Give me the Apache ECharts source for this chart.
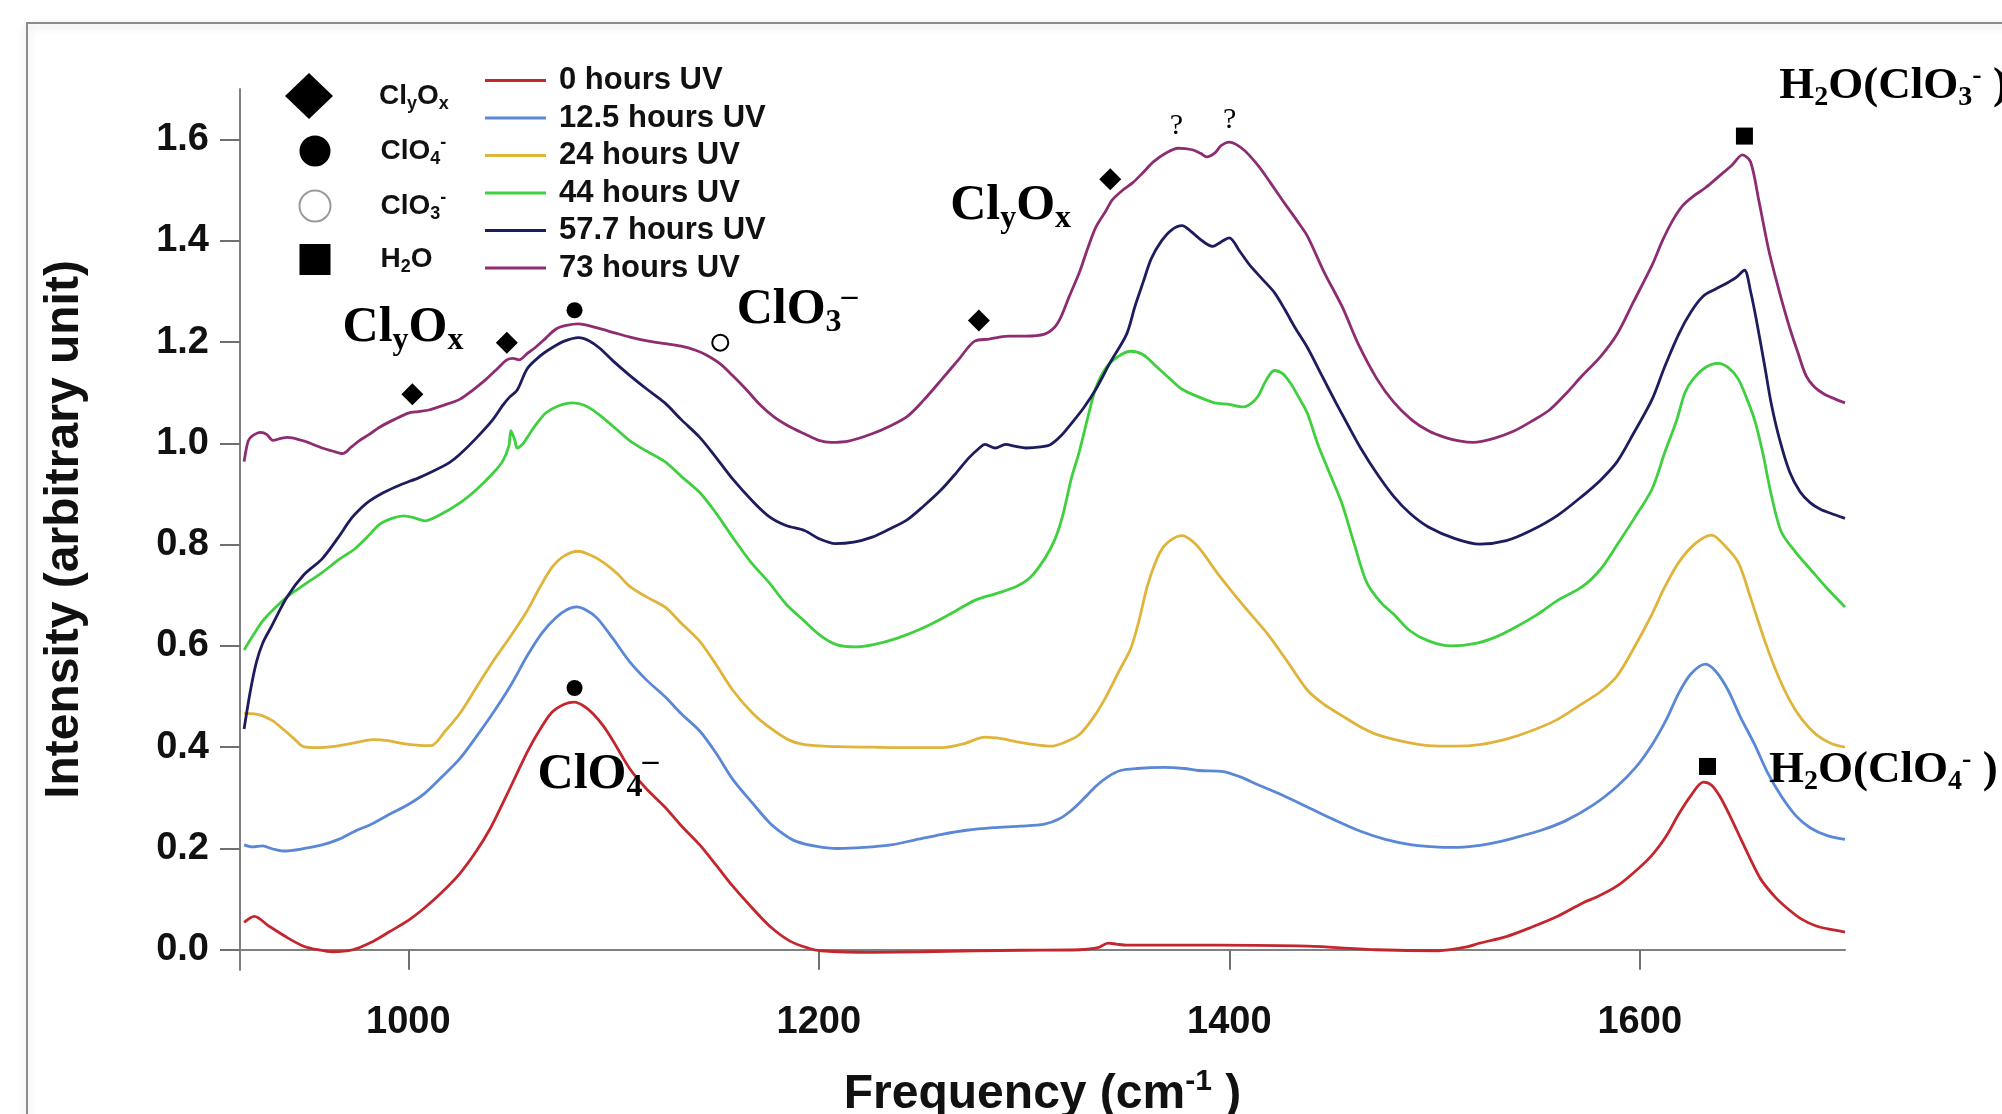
<!DOCTYPE html>
<html>
<head>
<meta charset="utf-8">
<script src="https://cdn.jsdelivr.net/npm/echarts@6/dist/echarts.min.js"></script>
<style>
html, body { margin: 0; background: #fff; }
#chart { width: 2002px; height: 1114px; }
</style>
</head>
<body>
<div id="chart"></div>
<script>
// spectra, [frequency cm-1, intensity]
var h0 = [[920,0.054],[925,0.066],[932,0.047],[941,0.024],[949,0.007],[956,0.0],[963,-0.004],[973,0.0],[983,0.017],[991,0.036],[1000,0.058],[1008,0.083],[1016,0.112],[1025,0.150],[1033,0.194],[1040,0.240],[1046,0.289],[1052,0.340],[1058,0.391],[1064,0.434],[1070,0.469],[1076,0.485],[1081,0.489],[1086,0.480],[1090,0.466],[1095,0.442],[1100,0.411],[1108,0.357],[1116,0.318],[1125,0.282],[1133,0.245],[1142,0.207],[1150,0.167],[1158,0.126],[1167,0.085],[1176,0.047],[1186,0.017],[1195,0.003],[1201,-0.002],[1226,-0.005],[1250,-0.004],[1276,-0.002],[1300,-0.001],[1327,0.0],[1336,0.004],[1341,0.013],[1345,0.011],[1350,0.009],[1394,0.009],[1438,0.007],[1472,0.0],[1502,-0.002],[1515,0.005],[1522,0.013],[1535,0.026],[1547,0.044],[1560,0.066],[1572,0.092],[1580,0.106],[1589,0.126],[1597,0.152],[1606,0.187],[1613,0.225],[1619,0.268],[1625,0.305],[1631,0.331],[1635,0.325],[1639,0.303],[1644,0.264],[1649,0.221],[1654,0.178],[1659,0.139],[1666,0.104],[1673,0.078],[1679,0.060],[1686,0.047],[1693,0.040],[1700,0.035]];

var h12 = [[920,0.207],[924,0.203],[929,0.205],[934,0.199],[939,0.195],[948,0.199],[958,0.207],[966,0.218],[974,0.234],[983,0.250],[991,0.268],[1000,0.287],[1008,0.309],[1016,0.340],[1025,0.377],[1033,0.420],[1041,0.466],[1050,0.523],[1058,0.581],[1065,0.625],[1072,0.656],[1077,0.671],[1082,0.677],[1087,0.670],[1092,0.655],[1100,0.613],[1108,0.568],[1116,0.533],[1125,0.500],[1133,0.466],[1142,0.432],[1150,0.388],[1158,0.337],[1168,0.288],[1176,0.251],[1183,0.228],[1189,0.214],[1199,0.204],[1209,0.200],[1222,0.202],[1235,0.207],[1247,0.217],[1260,0.228],[1272,0.236],[1285,0.241],[1298,0.244],[1310,0.248],[1317,0.258],[1323,0.275],[1329,0.298],[1335,0.323],[1341,0.342],[1347,0.354],[1355,0.358],[1368,0.360],[1378,0.358],[1385,0.354],[1397,0.352],[1405,0.342],[1414,0.326],[1426,0.305],[1438,0.282],[1451,0.257],[1464,0.234],[1476,0.218],[1489,0.207],[1500,0.203],[1509,0.202],[1520,0.205],[1530,0.212],[1539,0.221],[1552,0.236],[1564,0.255],[1577,0.285],[1589,0.323],[1598,0.360],[1606,0.405],[1613,0.455],[1619,0.507],[1625,0.545],[1632,0.564],[1637,0.550],[1643,0.513],[1649,0.460],[1656,0.405],[1662,0.352],[1669,0.303],[1676,0.265],[1683,0.241],[1691,0.226],[1700,0.218]];

var h24 = [[920,0.467],[925,0.466],[929,0.462],[934,0.452],[938,0.439],[944,0.418],[949,0.401],[956,0.399],[963,0.401],[973,0.408],[983,0.415],[990,0.413],[996,0.408],[1004,0.404],[1011,0.403],[1018,0.432],[1025,0.466],[1033,0.517],[1041,0.568],[1050,0.620],[1058,0.670],[1064,0.715],[1070,0.755],[1076,0.778],[1083,0.787],[1089,0.779],[1095,0.765],[1102,0.742],[1108,0.717],[1116,0.697],[1125,0.677],[1133,0.645],[1142,0.609],[1150,0.563],[1158,0.513],[1168,0.466],[1176,0.439],[1185,0.415],[1193,0.405],[1209,0.401],[1226,0.400],[1243,0.399],[1260,0.399],[1270,0.406],[1281,0.420],[1289,0.417],[1296,0.411],[1305,0.405],[1313,0.402],[1320,0.410],[1327,0.425],[1334,0.460],[1340,0.500],[1346,0.548],[1352,0.595],[1356,0.650],[1360,0.717],[1364,0.765],[1368,0.796],[1373,0.813],[1377,0.818],[1382,0.807],[1387,0.785],[1394,0.745],[1402,0.704],[1410,0.665],[1419,0.622],[1428,0.571],[1438,0.513],[1446,0.485],[1455,0.462],[1464,0.440],[1472,0.425],[1485,0.411],[1497,0.403],[1510,0.402],[1522,0.405],[1535,0.416],[1547,0.432],[1560,0.455],[1572,0.486],[1581,0.510],[1589,0.541],[1597,0.595],[1606,0.663],[1612,0.715],[1619,0.765],[1627,0.802],[1635,0.819],[1641,0.800],[1648,0.765],[1654,0.695],[1661,0.609],[1667,0.545],[1673,0.493],[1679,0.455],[1686,0.425],[1693,0.408],[1700,0.400]];

var h44 = [[920,0.592],[925,0.625],[929,0.649],[935,0.675],[941,0.697],[949,0.720],[958,0.745],[966,0.770],[974,0.792],[980,0.815],[986,0.840],[992,0.852],[998,0.857],[1003,0.853],[1008,0.847],[1015,0.858],[1025,0.882],[1033,0.908],[1041,0.940],[1046,0.965],[1049,0.995],[1050,1.025],[1052,1.005],[1053,0.991],[1056,1.000],[1058,1.012],[1062,1.036],[1067,1.060],[1073,1.074],[1080,1.080],[1086,1.075],[1092,1.060],[1100,1.033],[1108,1.005],[1116,0.985],[1125,0.964],[1133,0.935],[1142,0.903],[1150,0.862],[1158,0.815],[1167,0.765],[1176,0.724],[1184,0.683],[1193,0.649],[1201,0.620],[1209,0.602],[1218,0.598],[1226,0.602],[1238,0.615],[1251,0.636],[1264,0.663],[1276,0.690],[1286,0.703],[1296,0.717],[1303,0.735],[1310,0.772],[1315,0.810],[1319,0.860],[1323,0.930],[1327,0.985],[1331,1.050],[1335,1.110],[1340,1.150],[1346,1.172],[1352,1.182],[1358,1.175],[1365,1.150],[1371,1.128],[1377,1.107],[1385,1.092],[1393,1.080],[1400,1.077],[1407,1.072],[1411,1.080],[1414,1.093],[1418,1.125],[1422,1.144],[1426,1.138],[1430,1.118],[1434,1.090],[1438,1.060],[1443,1.000],[1449,0.940],[1455,0.880],[1461,0.800],[1467,0.725],[1474,0.685],[1480,0.663],[1488,0.630],[1497,0.610],[1508,0.600],[1520,0.605],[1530,0.618],[1539,0.636],[1550,0.662],[1560,0.690],[1572,0.717],[1581,0.752],[1589,0.800],[1597,0.850],[1606,0.910],[1612,0.980],[1618,1.046],[1622,1.100],[1626,1.127],[1632,1.150],[1638,1.158],[1643,1.150],[1648,1.127],[1652,1.090],[1656,1.046],[1660,0.980],[1664,0.900],[1669,0.825],[1676,0.785],[1683,0.752],[1691,0.715],[1700,0.677]];

var h57 = [[920,0.436],[923,0.510],[926,0.568],[929,0.605],[933,0.636],[941,0.697],[949,0.740],[958,0.772],[966,0.815],[971,0.845],[974,0.860],[980,0.883],[988,0.903],[996,0.918],[1005,0.932],[1012,0.945],[1020,0.962],[1025,0.978],[1033,1.010],[1041,1.046],[1046,1.075],[1049,1.090],[1053,1.105],[1058,1.148],[1064,1.172],[1070,1.189],[1076,1.202],[1083,1.209],[1088,1.203],[1093,1.189],[1100,1.162],[1108,1.134],[1116,1.108],[1125,1.080],[1133,1.047],[1142,1.012],[1150,0.972],[1158,0.930],[1168,0.885],[1176,0.855],[1184,0.838],[1193,0.828],[1200,0.812],[1208,0.802],[1217,0.805],[1226,0.815],[1234,0.830],[1243,0.849],[1251,0.876],[1260,0.910],[1267,0.942],[1273,0.971],[1278,0.990],[1281,0.998],[1286,0.991],[1291,0.998],[1296,0.994],[1301,0.991],[1308,0.993],[1313,0.998],[1318,1.015],[1323,1.039],[1329,1.070],[1335,1.107],[1342,1.160],[1350,1.216],[1354,1.270],[1358,1.318],[1362,1.365],[1367,1.400],[1372,1.422],[1377,1.430],[1381,1.420],[1385,1.406],[1389,1.394],[1392,1.389],[1396,1.398],[1400,1.406],[1405,1.380],[1410,1.352],[1416,1.325],[1422,1.298],[1427,1.265],[1432,1.229],[1438,1.190],[1445,1.135],[1452,1.080],[1458,1.035],[1464,0.991],[1472,0.940],[1480,0.896],[1488,0.862],[1497,0.835],[1510,0.812],[1522,0.801],[1535,0.808],[1547,0.828],[1560,0.858],[1572,0.896],[1581,0.928],[1589,0.964],[1597,1.020],[1606,1.087],[1612,1.150],[1619,1.216],[1625,1.260],[1631,1.291],[1637,1.305],[1643,1.318],[1647,1.328],[1651,1.342],[1654,1.300],[1657,1.240],[1661,1.150],[1664,1.080],[1668,1.010],[1673,0.944],[1678,0.905],[1683,0.883],[1688,0.870],[1693,0.862],[1700,0.852]];

var h73 = [[920,0.964],[922,1.005],[924,1.015],[928,1.022],[931,1.018],[934,1.006],[938,1.010],[941,1.012],[949,1.005],[958,0.991],[963,0.985],[968,0.980],[972,0.992],[976,1.005],[981,1.018],[986,1.032],[993,1.047],[1000,1.060],[1005,1.063],[1010,1.066],[1017,1.075],[1025,1.087],[1031,1.104],[1038,1.127],[1044,1.150],[1048,1.165],[1051,1.168],[1054,1.165],[1058,1.178],[1062,1.190],[1067,1.208],[1072,1.226],[1077,1.233],[1083,1.236],[1092,1.228],[1100,1.219],[1108,1.210],[1117,1.202],[1125,1.197],[1133,1.192],[1140,1.184],[1145,1.175],[1152,1.157],[1158,1.134],[1165,1.105],[1171,1.078],[1178,1.053],[1185,1.035],[1193,1.019],[1200,1.006],[1206,1.002],[1215,1.005],[1226,1.019],[1234,1.033],[1243,1.053],[1251,1.085],[1260,1.127],[1268,1.165],[1276,1.202],[1283,1.206],[1288,1.210],[1293,1.212],[1301,1.212],[1310,1.216],[1315,1.230],[1318,1.250],[1322,1.290],[1327,1.338],[1331,1.385],[1335,1.427],[1340,1.460],[1343,1.481],[1348,1.500],[1353,1.515],[1358,1.535],[1363,1.556],[1369,1.573],[1375,1.583],[1382,1.580],[1386,1.573],[1389,1.566],[1393,1.574],[1396,1.588],[1400,1.595],[1407,1.580],[1414,1.549],[1420,1.515],[1427,1.474],[1433,1.440],[1438,1.410],[1446,1.340],[1455,1.270],[1463,1.195],[1472,1.127],[1480,1.082],[1489,1.046],[1497,1.025],[1505,1.012],[1512,1.005],[1519,1.002],[1529,1.010],[1539,1.025],[1547,1.043],[1556,1.066],[1564,1.098],[1572,1.134],[1581,1.172],[1589,1.216],[1597,1.280],[1606,1.352],[1611,1.400],[1616,1.440],[1621,1.470],[1626,1.488],[1632,1.505],[1639,1.529],[1645,1.550],[1650,1.570],[1654,1.556],[1658,1.480],[1663,1.379],[1668,1.300],[1673,1.229],[1677,1.180],[1681,1.134],[1685,1.112],[1690,1.097],[1695,1.088],[1700,1.080]];

var lineNames = ['0 hours UV', '12.5 hours UV', '24 hours UV', '44 hours UV', '57.7 hours UV', '73 hours UV'];
var lineData = [h0, h12, h24, h44, h57, h73];
var lineColors = ['#c4262e', '#5a87d6', '#e0b43a', '#3fcf3f', '#1c1c5e', '#8e2c72'];

// peak markers
var clyoxPts = [[1002, 1.097], [1048, 1.199], [1278, 1.243], [1342, 1.522]];
var clo4Pts = [[1081, 1.263], [1081, 0.517]];
var clo3Pts = [[1152, 1.199]];
var h2oPts = [[1651, 1.607], [1633, 0.362]];

// text notes: [left edge freq, intensity, key]
var noteData = [
    [968, 1.228, 'clyox'],
    [1160, 1.264, 'clo3'],
    [1264, 1.469, 'clyox'],
    [1063, 0.345, 'clo4'],
    [1668, 1.705, 'h2oClo3'],
    [1663, 0.354, 'h2oClo4'],
    [1371, 1.627, 'q'],
    [1397, 1.638, 'q']
];

var xTicks = [1000, 1200, 1400, 1600];
var yTicks = [0, 0.2, 0.4, 0.6, 0.8, 1.0, 1.2, 1.4, 1.6];

var noteText = {
    clyox: '{t|Cl}{s|y}{t|O}{s|x}',
    clo3: '{t|ClO}{s|3}{p|\u2012}',
    clo4: '{t|ClO}{s|4}{p|\u2012}',
    h2oClo3: '{u|H}{v|2}{u|O(ClO}{v|3}{w|-}{u| )}',
    h2oClo4: '{u|H}{v|2}{u|O(ClO}{v|4}{w|-}{u| )}',
    q: '{q|?}'
};

var markNames = ['ClyOx', 'ClO4-', 'ClO3-', 'H2O'];
var markText = {
    'ClyOx': '{a|Cl}{b|y}{a|O}{b|x}',
    'ClO4-': '{a|ClO}{b|4}{c|-}',
    'ClO3-': '{a|ClO}{b|3}{c|-}',
    'H2O': '{a|H}{b|2}{a|O}'
};

var serif = 'Liberation Serif';
var sans = 'Liberation Sans';

var markRich = {
    g1: {width: 41},
    g2: {width: 45},
    a: {fontFamily: sans, fontWeight: 'bold', fontSize: 28, lineHeight: 34, color: '#111'},
    b: {fontFamily: sans, fontWeight: 'bold', fontSize: 18, lineHeight: 18, verticalAlign: 'bottom', color: '#111'},
    c: {fontFamily: sans, fontWeight: 'bold', fontSize: 18, lineHeight: 18, verticalAlign: 'top', color: '#111'}
};

var series = [];
for (var i = 0; i < lineData.length; i++) {
    series.push({
        name: lineNames[i],
        type: 'line',
        data: lineData[i],
        symbol: 'none',
        smooth: 0.3,
        lineStyle: {width: 2.8, color: lineColors[i]},
        itemStyle: {color: lineColors[i]},
        z: 2
    });
}

series.push({
    name: 'ClyOx', type: 'scatter', data: clyoxPts, symbol: 'diamond', symbolSize: 22,
    itemStyle: {color: '#000', opacity: 1}, z: 5, silent: true
});
series.push({
    name: 'ClO4-', type: 'scatter', data: clo4Pts, symbol: 'circle', symbolSize: 16,
    itemStyle: {color: '#000', opacity: 1}, z: 5, silent: true
});
series.push({
    name: 'ClO3-', type: 'scatter', data: clo3Pts, symbol: 'emptyCircle', symbolSize: 16,
    itemStyle: {color: '#000', borderWidth: 2, opacity: 1}, z: 5, silent: true
});
series.push({
    name: 'H2O', type: 'scatter', data: h2oPts, symbol: 'rect', symbolSize: 17,
    itemStyle: {color: '#000', opacity: 1}, z: 5, silent: true
});
series.push({
    name: 'notes', type: 'scatter', data: noteData, symbolSize: 0, clip: false, silent: true, z: 6,
    itemStyle: {opacity: 1},
    label: {
        show: true,
        position: 'right',
        distance: 0,
        opacity: 1,
        formatter: function (p) { return noteText[p.value[2]]; },
        rich: {
            t: {fontFamily: serif, fontWeight: 'bold', fontSize: 50, lineHeight: 58, color: '#000'},
            s: {fontFamily: serif, fontWeight: 'bold', fontSize: 32, lineHeight: 32, verticalAlign: 'bottom', color: '#000'},
            p: {fontFamily: serif, fontWeight: 'bold', fontSize: 32, lineHeight: 32, verticalAlign: 'top', color: '#000'},
            u: {fontFamily: serif, fontWeight: 'bold', fontSize: 45, lineHeight: 50, color: '#000'},
            v: {fontFamily: serif, fontWeight: 'bold', fontSize: 28, lineHeight: 28, verticalAlign: 'bottom', color: '#000'},
            w: {fontFamily: serif, fontWeight: 'bold', fontSize: 28, lineHeight: 28, verticalAlign: 'top', color: '#000'},
            q: {fontFamily: serif, fontSize: 30, color: '#000'}
        }
    }
});

var option = {
    backgroundColor: '#fff',
    animation: false,
    grid: {left: 240, right: 157, top: 89, bottom: 144, outerBoundsMode: 'none'},
    graphic: [{
        type: 'rect',
        shape: {x: 27, y: 23, width: 2100, height: 1200},
        style: {fill: 'none', stroke: '#8c8c8c', lineWidth: 2, shadowBlur: 8, shadowColor: 'rgba(0,0,0,0.18)', shadowOffsetY: 3},
        silent: true,
        z: -1
    }],
    legend: [{
        data: lineNames,
        orient: 'vertical',
        left: 480,
        top: 60,
        icon: 'rect',
        itemWidth: 61,
        itemHeight: 3,
        itemGap: 6.5,
        selectedMode: false,
        textStyle: {fontFamily: sans, fontWeight: 'bold', fontSize: 31, lineHeight: 30, color: '#111', padding: [0, 0, 0, 8]}
    }, {
        data: [markNames[0]],
        orient: 'vertical',
        left: 280,
        top: 68,
        itemWidth: 48,
        itemHeight: 46,
        selectedMode: false,
        formatter: function (name) { return '{g1| }' + markText[name]; },
        textStyle: {rich: markRich}
    }, {
        data: [markNames[1], {name: markNames[2], itemStyle: {color: '#9a9a9a', borderColor: '#9a9a9a', borderWidth: 1.5}}, markNames[3]],
        orient: 'vertical',
        left: 293.5,
        top: 129,
        itemWidth: 31,
        itemHeight: 31,
        itemGap: 21,
        selectedMode: false,
        formatter: function (name) { return '{g2| }' + markText[name]; },
        textStyle: {rich: markRich}
    }],
    xAxis: {
        type: 'value',
        min: 918,
        max: 1700,
        name: 'Frequency (cm{p|-1} )',
        nameLocation: 'middle',
        nameGap: 97,
        nameTextStyle: {
            fontFamily: sans, fontWeight: 'bold', fontSize: 48, lineHeight: 56, color: '#111',
            rich: {p: {fontFamily: sans, fontWeight: 'bold', fontSize: 30, lineHeight: 30, verticalAlign: 'top', color: '#111'}}
        },
        splitLine: {show: false},
        axisLine: {lineStyle: {color: '#808080', width: 2}},
        axisTick: {customValues: xTicks, length: 20, lineStyle: {color: '#707070', width: 2}},
        axisLabel: {
            customValues: xTicks, margin: 34, fontFamily: sans, fontWeight: 'bold', fontSize: 38, color: '#111',
            formatter: function (v) { return String(v); }
        }
    },
    yAxis: {
        type: 'value',
        min: -0.04,
        max: 1.7,
        name: 'Intensity (arbitrary unit)',
        nameLocation: 'middle',
        nameGap: 151,
        nameTextStyle: {fontFamily: sans, fontWeight: 'bold', fontSize: 48, color: '#111'},
        splitLine: {show: false},
        axisLine: {show: true, lineStyle: {color: '#808080', width: 2}},
        axisTick: {show: true, customValues: yTicks, length: 20, lineStyle: {color: '#707070', width: 2}},
        axisLabel: {
            customValues: yTicks, margin: 31, fontFamily: sans, fontWeight: 'bold', fontSize: 38, color: '#111',
            formatter: function (v) { return v.toFixed(1); }
        }
    },
    series: series
};

var chart = echarts.init(document.getElementById('chart'));
chart.setOption(option);
</script>
</body>
</html>
